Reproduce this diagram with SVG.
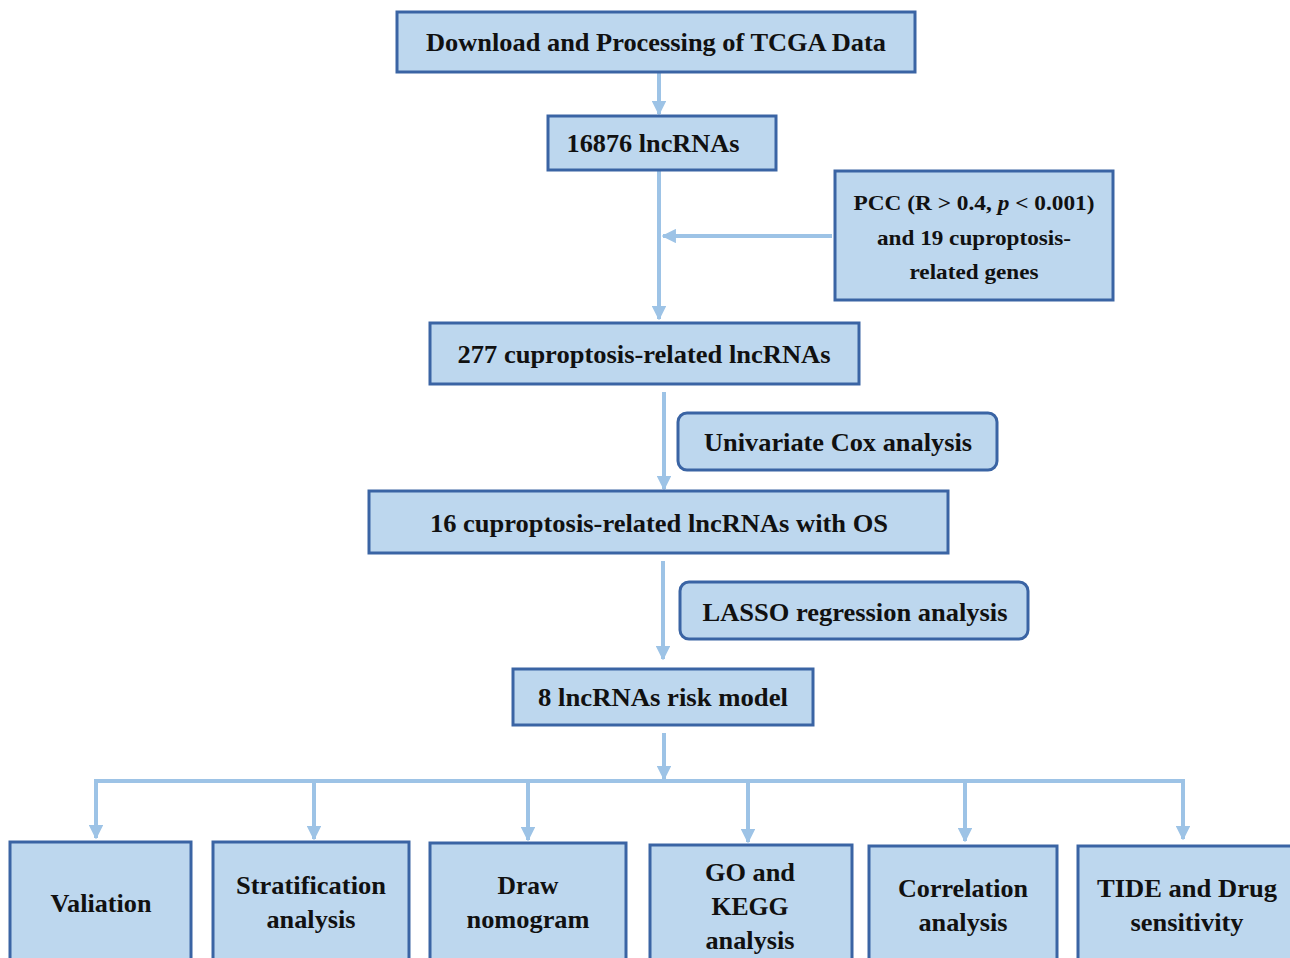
<svg xmlns="http://www.w3.org/2000/svg" width="1290" height="958" viewBox="0 0 1290 958">
<defs>
<marker id="ah" viewBox="0 0 10 10" refX="9" refY="5" markerWidth="3.6" markerHeight="3.6" markerUnits="strokeWidth" orient="auto">
<path d="M0,0 L10,5 L0,10 Z" fill="#9dc3e6"/>
</marker>
<style>
.box{fill:#bdd7ee;stroke:#3a64a4;stroke-width:3}
.t{font-family:"Liberation Serif","Times New Roman",serif;font-weight:bold;font-size:26px;fill:#111;text-anchor:middle}
.s{font-size:21px}
.c{stroke:#9dc3e6;stroke-width:4;fill:none}
</style>
</defs>
<rect width="1290" height="958" fill="#fff"/>
<g id="connectors">
<line class="c" x1="659" y1="72" x2="659" y2="114" marker-end="url(#ah)"/>
<line class="c" x1="659" y1="170" x2="659" y2="319" marker-end="url(#ah)"/>
<line class="c" x1="832" y1="236" x2="663" y2="236" marker-end="url(#ah)"/>
<line class="c" x1="664" y1="392" x2="664" y2="489" marker-end="url(#ah)"/>
<line class="c" x1="663" y1="561" x2="663" y2="659" marker-end="url(#ah)"/>
<line class="c" x1="664" y1="733" x2="664" y2="779" marker-end="url(#ah)"/>
<polyline class="c" points="96,800 96,781 1183,781 1183,800"/>
<line class="c" x1="96" y1="795" x2="96" y2="838" marker-end="url(#ah)"/>
<line class="c" x1="314" y1="781" x2="314" y2="839" marker-end="url(#ah)"/>
<line class="c" x1="528" y1="781" x2="528" y2="840" marker-end="url(#ah)"/>
<line class="c" x1="748" y1="781" x2="748" y2="842" marker-end="url(#ah)"/>
<line class="c" x1="965" y1="781" x2="965" y2="841" marker-end="url(#ah)"/>
<line class="c" x1="1183" y1="795" x2="1183" y2="839" marker-end="url(#ah)"/>
</g>
<g id="n1"><rect class="box" x="397" y="12" width="518" height="60"/><text class="t" x="656" y="51" textLength="460" lengthAdjust="spacingAndGlyphs">Download and Processing of TCGA Data</text></g>
<g id="n2"><rect class="box" x="548" y="116" width="228" height="54"/><text class="t" x="653" y="152" textLength="173" lengthAdjust="spacingAndGlyphs">16876 lncRNAs</text></g>
<g id="n3"><rect class="box" x="835" y="171" width="278" height="129"/>
<text class="t s" x="974" y="210" textLength="241" lengthAdjust="spacingAndGlyphs">PCC (R &gt; 0.4, <tspan font-style="italic">p</tspan> &lt; 0.001)</text>
<text class="t s" x="974" y="245" textLength="194" lengthAdjust="spacingAndGlyphs">and 19 cuproptosis-</text>
<text class="t s" x="974" y="279" textLength="129" lengthAdjust="spacingAndGlyphs">related genes</text></g>
<g id="n4"><rect class="box" x="430" y="323" width="429" height="61"/><text class="t" x="644" y="363" textLength="373" lengthAdjust="spacingAndGlyphs">277 cuproptosis-related lncRNAs</text></g>
<g id="n5"><rect class="box" x="678" y="413" width="319" height="57" rx="9"/><text class="t" x="838" y="451" textLength="268" lengthAdjust="spacingAndGlyphs">Univariate Cox analysis</text></g>
<g id="n6"><rect class="box" x="369" y="491" width="579" height="62"/><text class="t" x="659" y="532" textLength="458" lengthAdjust="spacingAndGlyphs">16 cuproptosis-related lncRNAs with OS</text></g>
<g id="n7"><rect class="box" x="680" y="582" width="348" height="57" rx="9"/><text class="t" x="855" y="621" textLength="305" lengthAdjust="spacingAndGlyphs">LASSO regression analysis</text></g>
<g id="n8"><rect class="box" x="513" y="669" width="300" height="56"/><text class="t" x="663" y="706" textLength="250" lengthAdjust="spacingAndGlyphs">8 lncRNAs risk model</text></g>
<g id="n9"><rect class="box" x="10" y="842" width="181" height="130"/><text class="t" x="101" y="912" textLength="101" lengthAdjust="spacingAndGlyphs">Valiation</text></g>
<g id="n10"><rect class="box" x="213" y="842" width="196" height="130"/><text class="t" x="311" y="894" textLength="150" lengthAdjust="spacingAndGlyphs">Stratification</text><text class="t" x="311" y="928" textLength="89" lengthAdjust="spacingAndGlyphs">analysis</text></g>
<g id="n11"><rect class="box" x="430" y="843" width="196" height="130"/><text class="t" x="528" y="894" textLength="61" lengthAdjust="spacingAndGlyphs">Draw</text><text class="t" x="528" y="928" textLength="123" lengthAdjust="spacingAndGlyphs">nomogram</text></g>
<g id="n12"><rect class="box" x="650" y="845" width="202" height="130"/><text class="t" x="750" y="881" textLength="90" lengthAdjust="spacingAndGlyphs">GO and</text><text class="t" x="750" y="915" textLength="77" lengthAdjust="spacingAndGlyphs">KEGG</text><text class="t" x="750" y="949" textLength="89" lengthAdjust="spacingAndGlyphs">analysis</text></g>
<g id="n13"><rect class="box" x="869" y="846" width="188" height="130"/><text class="t" x="963" y="897" textLength="130" lengthAdjust="spacingAndGlyphs">Correlation</text><text class="t" x="963" y="931" textLength="89" lengthAdjust="spacingAndGlyphs">analysis</text></g>
<g id="n14"><rect class="box" x="1078" y="846" width="220" height="130"/><text class="t" x="1187" y="897" textLength="180" lengthAdjust="spacingAndGlyphs">TIDE and Drug</text><text class="t" x="1187" y="931" textLength="113" lengthAdjust="spacingAndGlyphs">sensitivity</text></g>
</svg>
